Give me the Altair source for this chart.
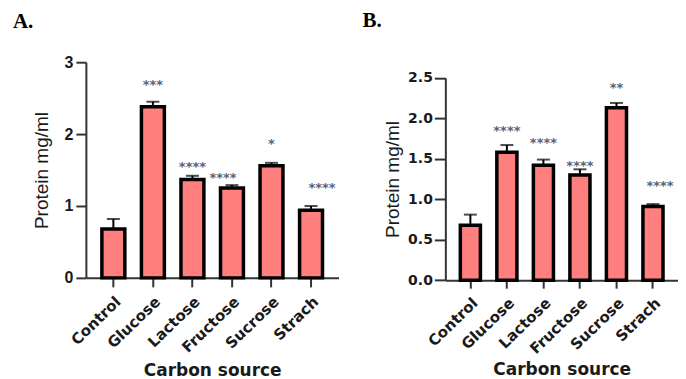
import altair as alt
import pandas as pd

# ---------------- data ----------------
categories = ["Control", "Glucose", "Lactose", "Fructose", "Sucrose", "Strach"]

a_means = [0.68, 2.38, 1.37, 1.25, 1.56, 0.94]
a_errors = [0.14, 0.07, 0.05, 0.04, 0.04, 0.06]
a_stars = ["", "***", "****", "****", "*", "****"]
a_star_y = [None, 2.72, 1.58, 1.43, 1.89, 1.29]

b_means = [0.68, 1.58, 1.42, 1.30, 2.13, 0.91]
b_errors = [0.13, 0.09, 0.07, 0.07, 0.06, 0.03]
b_stars = ["", "****", "****", "****", "**", "****"]
b_star_y = [None, 1.88, 1.72, 1.44, 2.40, 1.19]

a_ticks = [0, 1, 2, 3]
b_ticks = [0, 0.5, 1.0, 1.5, 2.0, 2.5]

# ---------------- style ----------------
FILL = "#FF7F7F"
INK = "#1a1a1a"
AXIS = "#333333"


def panel(label, means, errors, stars, star_y, ticks, st):
    df = pd.DataFrame({
        "cat": categories, "mean": means, "err": errors,
        "stars": stars, "star_y": star_y,
    })
    df["top"] = df["mean"] + df["err"]
    base = alt.Chart(df)

    x_axis = alt.Axis(
        title="Carbon source", labelAngle=st["angle"], labelAlign="right",
        labelBaseline="top", labelFont="DejaVu Sans", labelFontWeight="bold",
        labelFontSize=15, labelColor=INK, labelPadding=st["xpad"],
        tickSize=st["xtick"], tickWidth=2, tickColor=AXIS,
        domainWidth=2, domainColor=AXIS,
        titleFont="DejaVu Sans", titleFontWeight="bold", titleFontSize=17,
        titleColor=INK, titleBaseline="alphabetic", titleY=st["xtitle_y"],
    )
    y_axis = alt.Axis(
        title="Protein mg/ml", values=ticks, format=st["fmt"],
        labelFont=st["yfont"], labelFontWeight="bold", labelFontSize=st["ysize"],
        labelColor=INK, labelPadding=st["ypad"],
        tickSize=st["ytick"], tickWidth=2, tickColor=AXIS,
        domainWidth=2, domainColor=AXIS, grid=False,
        titleFont="Liberation Sans", titleFontWeight="normal", titleFontSize=19,
        titleColor=INK, titleAngle=-90, titleAlign="center",
        titleBaseline="alphabetic", titleX=st["ytitle_x"], titleY=st["ytitle_y"],
    )
    x = alt.X("cat:N", sort=categories,
              scale=alt.Scale(paddingInner=st["pi"], paddingOuter=st["po"]),
              axis=x_axis)
    y = alt.Y("mean:Q",
              scale=alt.Scale(domain=[0, ticks[-1]], nice=False,
                              range=[st["h"], st["ytop"]]),
              axis=y_axis)
    xs = alt.X("cat:N", sort=categories)

    bars = base.mark_bar(fill=FILL, stroke="black", strokeWidth=3.5).encode(x=x, y=y)
    rule = base.mark_rule(color="black", strokeWidth=2).encode(
        x=xs, y="mean:Q", y2="top:Q")
    cap = base.mark_tick(color="black", thickness=2, size=st["cap"],
                         orient="horizontal").encode(x=xs, y="top:Q")

    layers = [bars, rule, cap]
    offsets = st["star_dx"]
    groups = {}
    for c in categories:
        groups.setdefault(offsets.get(c, 0), []).append(c)
    for dx, cats in groups.items():
        layers.append(
            base.transform_filter("datum.stars != ''")
            .transform_filter(alt.FieldOneOfPredicate(field="cat", oneOf=cats))
            .mark_text(font="DejaVu Sans", fontWeight="bold", fontSize=13,
                       color="#56617a", baseline="alphabetic", dy=6.5, dx=dx)
            .encode(x=xs, y="star_y:Q", text="stars:N")
        )

    lab = alt.Chart(alt.Data(values=[{"t": label}])).mark_text(
        align="left", baseline="alphabetic", font="Liberation Serif",
        fontWeight="bold", fontSize=21, color="black",
    ).encode(x=alt.value(st["lab_x"]), y=alt.value(st["lab_y"]), text="t:N")
    layers.append(lab)

    return alt.layer(*layers).properties(width=st["w"], height=st["h"])


style_a = dict(w=253, h=216, ytop=0, pi=0.42, po=0.405, angle=-44, xpad=7, xtick=9,
               xtitle_y=98, fmt="d", yfont="Liberation Sans", ysize=16, ypad=3,
               ytick=10, ytitle_x=-38, ytitle_y=108, cap=13,
               star_dx={"Fructose": -9, "Strach": 11}, lab_x=-73, lab_y=-34)
style_b = dict(w=233, h=218.3, ytop=15.7, pi=0.45, po=0.41, angle=-44, xpad=7, xtick=8,
               xtitle_y=94, fmt=".1f", yfont="DejaVu Sans", ysize=14, ypad=2,
               ytick=11, ytitle_x=-47, ytitle_y=117, cap=13,
               star_dx={"Strach": 7}, lab_x=-83, lab_y=-35)

chart_a = panel("A.", a_means, a_errors, a_stars, a_star_y, a_ticks, style_a)
chart_b = panel("B.", b_means, b_errors, b_stars, b_star_y, b_ticks, style_b)

chart = alt.hconcat(chart_a, chart_b, spacing=24).properties(
    padding={"left": 5, "top": 2, "right": 0, "bottom": 0},
    background="white",
).configure_view(stroke=None)

chart.save("out.html", embed_options={"renderer": "svg", "actions": False})
